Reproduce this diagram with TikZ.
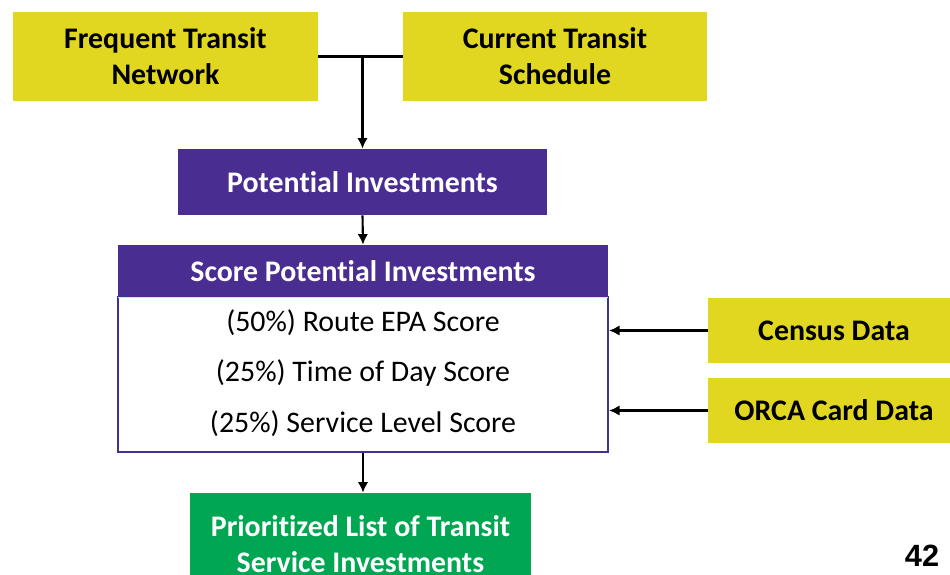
\documentclass[tikz,border=0pt]{standalone}
\usepackage{fontspec}
\setmainfont[Ligatures=NoCommon]{Carlito}
\newfontfamily\pagefont{Liberation Sans}
\usetikzlibrary{arrows.meta}

\definecolor{srcyellow}{RGB}{226,215,32}
\definecolor{stepviolet}{RGB}{74,45,144}
\definecolor{outgreen}{RGB}{0,166,81}

\tikzset{
    srcbox/.style={fill=srcyellow, align=center, inner sep=0pt,
        font=\fontsize{17}{20.5}\selectfont\bfseries},
    stepbox/.style={fill=stepviolet, text=white, align=center, inner sep=0pt,
        font=\fontsize{17}{20.5}\selectfont\bfseries},
    crit/.style={font=\fontsize{17}{20}\selectfont},
    flow/.style={line width=1.2pt, -{Latex[length=6pt,width=6pt]}}
}

\begin{document}
\begin{tikzpicture}
        \useasboundingbox (0,0) rectangle (19,11.5);

        %%%%%%%%% Sorgenti %%%%%%%%%
        \node[srcbox, minimum width=6.1cm, minimum height=1.78cm] (ftn) at (3.31,10.37) {Frequent Transit\\Network};
        \node[srcbox, minimum width=6.08cm, minimum height=1.78cm] (cts) at (11.1,10.37) {Current Transit\\Schedule};

        %%%%%%%%% Investimenti %%%%%%%%%
        \node[stepbox, minimum width=7.38cm, minimum height=1.32cm] (pot) at (7.25,7.86) {Potential Investments};

        %%%%%%%%% Punteggio %%%%%%%%%
        \node[draw=stepviolet, line width=1.2pt, fill=white, minimum width=9.8cm, minimum height=3.1cm] (body) at (7.26,4.01) {};
        \node[stepbox, minimum width=9.8cm, minimum height=1.04cm] (head) at (7.26,6.08) {Score Potential Investments};
        \draw[cyan!25, line width=0.6pt] (head.south west) -- (head.south east);
        \node[crit] (epa) at (7.26,5.04) {(50\%) Route EPA Score};
        \node[crit] (tod) at (7.26,4.04) {(25\%) Time of Day Score};
        \node[crit] (lvl) at (7.26,3.02) {(25\%) Service Level Score};

        %%%%%%%%% Dati %%%%%%%%%
        \node[srcbox, minimum width=5.04cm, minimum height=1.3cm] (census) at (16.68,4.89) {Census Data};
        \node[srcbox, minimum width=5.04cm, minimum height=1.3cm] (orca) at (16.68,3.29) {ORCA Card Data};

        %%%%%%%%% Risultato %%%%%%%%%
        \node[stepbox, fill=outgreen, minimum width=6.82cm, minimum height=2.06cm] (prio) at (7.21,0.61) {Prioritized List of Transit\\Service Investments};

        \node[font=\fontsize{17.5}{20}\selectfont\pagefont\bfseries] (pagenum) at (18.44,0.38) {42};

        %%%%%%%%% Frecce %%%%%%%%%
        \coordinate (join) at (pot.north |- ftn.east);
        \draw[line width=1.2pt] (ftn.east) -- (cts.west);
        \draw[flow] (join) -- (pot.north);
        \draw[flow] (pot.south) -- (head.north);
        \draw[flow] (body.south) -- (body.south |- prio.north);
        \draw[flow] (census.west) -- (census.west -| body.east);
        \draw[flow] (orca.west) -- (orca.west -| body.east);
    \end{tikzpicture}
\end{document}
